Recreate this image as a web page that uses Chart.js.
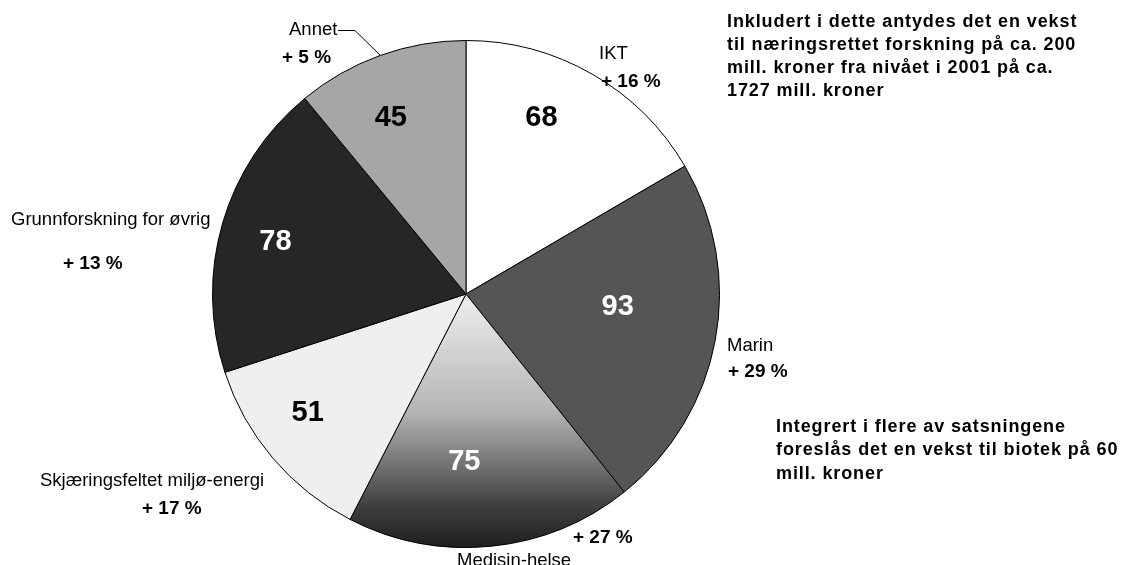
<!DOCTYPE html>
<html>
<head>
<meta charset="utf-8">
<script src="https://cdn.jsdelivr.net/npm/chart.js@4.4.0/dist/chart.umd.min.js"></script>
<style>
html, body { margin: 0; padding: 0; background: #fff; }
canvas { display: block; }
</style>
</head>
<body>
<canvas id="pieChart" width="1122" height="565"></canvas>
<script>
// Data
const categories = ['IKT', 'Marin', 'Medisin-helse', 'Skjæringsfeltet miljø-energi', 'Grunnforskning for øvrig', 'Annet'];
const amounts = [68, 93, 75, 51, 78, 45];
const growthLabels = ['+ 16 %', '+ 29 %', '+ 27 %', '+ 17 %', '+ 13 %', '+ 5 %'];
const noteTop = [
    'Inkludert i dette antydes det en vekst',
    'til næringsrettet forskning på ca. 200',
    'mill. kroner fra nivået i 2001 på ca.',
    '1727 mill. kroner'
];
const noteBottom = [
    'Integrert i flere av satsningene',
    'foreslås det en vekst til biotek på 60',
    'mill. kroner'
];

// Styling
const FONT = '"Liberation Sans", Arial, sans-serif';
const sliceColors = ['#ffffff', '#555555', null, '#efefef', '#262626', '#a6a6a6'];
const valueColors = ['#000000', '#ffffff', '#ffffff', '#000000', '#ffffff', '#000000'];
// value label placement: shift from mid angle (deg) and fraction of radius
const valueAngleShift = [-6.8, -6.1, 6.3, 3.6, -0.7, -3.2];
const valueRadius = [0.76, 0.60, 0.66, 0.78, 0.78, 0.76];
// outside label placement: [nameX, nameBaseline, growthX, growthBaseline]
const outsideLabels = [
    [599, 59, 601, 87],
    [727, 351, 728, 377],
    [457, 566, 573, 543],
    [40, 486, 142, 514],
    [11, 225, 63, 269],
    [289, 35, 282, 63]
];

// slice 2 (Medisin-helse) has a vertical light-to-dark gradient
function sliceFill(context) {
    const i = context.dataIndex;
    if (sliceColors[i]) return sliceColors[i];
    const chart = context.chart;
    const area = chart.chartArea;
    if (!area) return '#888888';
    const cy = (area.top + area.bottom) / 2;
    const g = chart.ctx.createLinearGradient(0, cy, 0, area.bottom);
    g.addColorStop(0, '#eeeeee');
    g.addColorStop(0.46, '#b5b5b5');
    g.addColorStop(0.65, '#7a7a7a');
    g.addColorStop(0.83, '#404040');
    g.addColorStop(1, '#1e1e1e');
    return g;
}

const labelPlugin = {
    id: 'pieLabels',
    afterDraw(chart) {
        const ctx = chart.ctx;
        const arcs = chart.getDatasetMeta(0).data;
        ctx.save();

        // values inside slices
        ctx.font = 'bold 29px ' + FONT;
        ctx.textAlign = 'center';
        ctx.textBaseline = 'middle';
        arcs.forEach((arc, i) => {
            const mid = (arc.startAngle + arc.endAngle) / 2 + valueAngleShift[i] * Math.PI / 180;
            const r = arc.outerRadius * valueRadius[i];
            ctx.fillStyle = valueColors[i];
            ctx.fillText(String(amounts[i]), arc.x + Math.cos(mid) * r, arc.y + Math.sin(mid) * r + 1);
        });

        // category names and growth
        ctx.textAlign = 'left';
        ctx.textBaseline = 'alphabetic';
        ctx.fillStyle = '#000000';
        categories.forEach((name, i) => {
            const p = outsideLabels[i];
            ctx.font = '18.5px ' + FONT;
            ctx.fillText(name, p[0], p[1]);
            ctx.font = 'bold 19px ' + FONT;
            ctx.fillText(growthLabels[i], p[2], p[3]);
        });

        // leader line for Annet
        const annet = arcs[5];
        const a = (annet.startAngle + annet.endAngle) / 2;
        ctx.strokeStyle = '#000000';
        ctx.lineWidth = 1;
        ctx.beginPath();
        ctx.moveTo(338, 30.5);
        ctx.lineTo(355, 30.5);
        ctx.lineTo(annet.x + Math.cos(a) * annet.outerRadius, annet.y + Math.sin(a) * annet.outerRadius);
        ctx.stroke();

        // notes on the right
        ctx.font = 'bold 18px ' + FONT;
        ctx.letterSpacing = '0.9px';
        noteTop.forEach((line, i) => ctx.fillText(line, 727, 27 + i * 23));
        noteBottom.forEach((line, i) => ctx.fillText(line, 776, 432 + i * 23.3));
        ctx.restore();
    }
};

new Chart(document.getElementById('pieChart').getContext('2d'), {
    type: 'pie',
    data: {
        labels: categories,
        datasets: [{
            data: amounts,
            backgroundColor: sliceFill,
            borderColor: '#000000',
            borderWidth: 1
        }]
    },
    options: {
        responsive: false,
        animation: false,
        events: [],
        layout: {
            padding: { left: 212, right: 402, top: 40, bottom: 17 }
        },
        plugins: {
            legend: { display: false },
            tooltip: { enabled: false }
        }
    },
    plugins: [labelPlugin]
});
</script>
</body>
</html>
